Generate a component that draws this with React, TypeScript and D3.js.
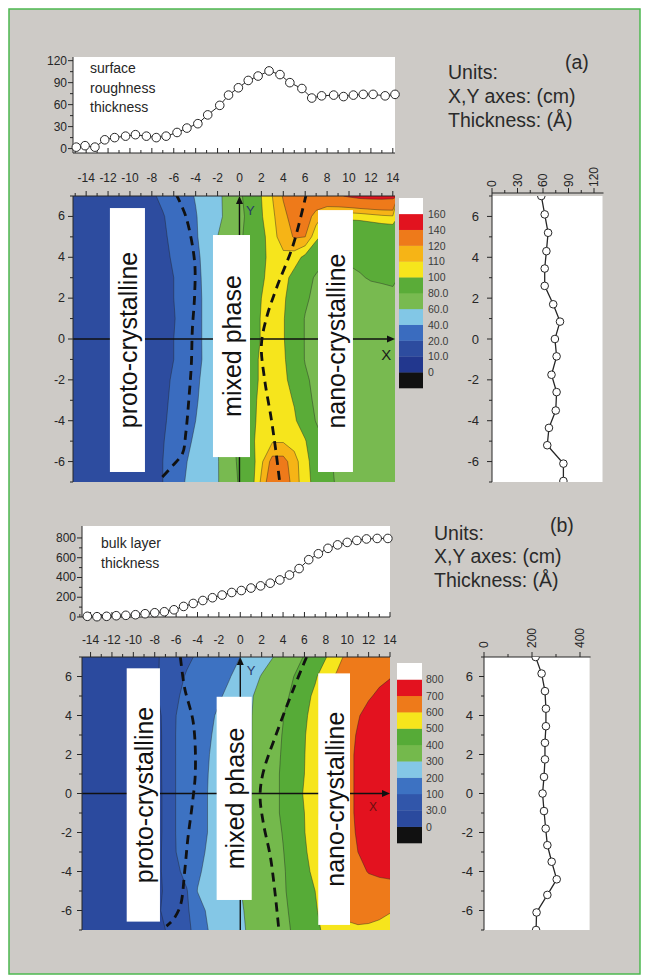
import React from "react";
import * as d3 from "d3";

const FONT = "'Liberation Sans', Arial, Helvetica, sans-serif";

// ---------- grid of the two thickness maps (cm) ----------
const gridX = [-15, -14, -13, -12, -11, -10, -9, -8, -7, -6, -5, -4, -3, -2, -1, 0, 1, 2, 3, 4, 5, 6, 7, 8, 9, 10, 11, 12, 13, 14];
const gridY = [7, 6, 5, 4, 3, 2, 1, 0, -1, -2, -3, -4, -5, -6, -7];

// surface roughness thickness (Å), one row per y from +7 down to -7
const roughnessMap = [
  [15, 15, 15, 15, 15, 15, 16, 18, 23, 29, 35, 41, 48, 56, 66, 77, 88, 100, 110, 121, 126, 130, 132, 135, 138, 142, 145, 146, 146, 145],
  [15, 15, 15, 15, 15, 15, 16, 17, 19, 25, 32, 39, 47, 56, 65, 75, 86, 99, 108, 117, 125, 127, 115, 106, 104, 103, 104, 106, 108, 109],
  [15, 15, 15, 15, 15, 15, 16, 17, 18, 23, 30, 38, 48, 60, 69, 77, 87, 96, 107, 114, 121, 120, 103, 94, 88, 85, 84, 84, 85, 86],
  [15, 15, 15, 15, 15, 15, 16, 17, 18, 21, 28, 36, 46, 60, 69, 79, 88, 97, 104, 108, 105, 97, 88, 81, 81, 82, 83, 84, 84, 85],
  [15, 15, 15, 15, 15, 15, 16, 17, 18, 20, 27, 35, 45, 58, 69, 79, 89, 98, 105, 104, 96, 86, 78, 75, 75, 77, 79, 81, 82, 83],
  [15, 15, 15, 15, 15, 15, 16, 17, 18, 20, 27, 35, 44, 57, 69, 80, 90, 100, 105, 102, 93, 83, 75, 72, 72, 73, 74, 75, 75, 76],
  [15, 15, 15, 15, 15, 15, 16, 17, 18, 19, 27, 35, 44, 57, 70, 82, 92, 101, 106, 101, 91, 79, 74, 72, 72, 73, 73, 72, 72, 72],
  [15, 15, 15, 15, 15, 16, 16, 17, 18, 20, 27, 35, 44, 57, 71, 83, 92, 101, 106, 101, 91, 79, 74, 72, 72, 73, 73, 72, 72, 72],
  [15, 15, 15, 15, 15, 15, 16, 17, 18, 20, 26, 36, 43, 56, 70, 84, 95, 102, 105, 102, 92, 79, 73, 72, 72, 72, 73, 72, 72, 72],
  [15, 15, 15, 15, 15, 15, 16, 17, 18, 21, 28, 37, 45, 57, 70, 84, 95, 102, 105, 103, 95, 83, 75, 72, 71, 72, 72, 72, 72, 72],
  [15, 15, 15, 15, 15, 15, 16, 17, 18, 22, 30, 38, 47, 58, 71, 85, 96, 103, 106, 105, 99, 87, 76, 73, 72, 72, 72, 72, 72, 72],
  [15, 15, 15, 15, 15, 15, 16, 17, 18, 24, 32, 40, 48, 58, 71, 85, 97, 103, 106, 106, 102, 92, 79, 75, 73, 72, 72, 72, 72, 72],
  [15, 15, 15, 15, 15, 15, 16, 17, 19, 27, 35, 43, 50, 59, 72, 86, 97, 105, 109, 109, 106, 101, 88, 77, 74, 73, 72, 72, 72, 72],
  [15, 15, 15, 15, 15, 15, 16, 17, 20, 29, 38, 47, 53, 59, 70, 84, 94, 108, 124, 124, 114, 103, 95, 83, 77, 74, 73, 72, 72, 72],
  [15, 15, 15, 15, 15, 15, 16, 17, 20, 30, 40, 48, 54, 59, 69, 82, 94, 112, 130, 128, 115, 104, 96, 84, 78, 74, 73, 72, 72, 72],
];

// bulk layer thickness (Å), one row per y from +7 down to -7
const bulkMap = [
  [15, 15, 15, 16, 17, 18, 20, 22, 41, 64, 86, 109, 132, 155, 177, 200, 232, 265, 297, 331, 369, 405, 450, 495, 560, 627, 655, 668, 675, 680],
  [15, 15, 15, 16, 17, 18, 20, 22, 43, 77, 107, 129, 151, 173, 196, 230, 268, 305, 337, 368, 400, 443, 487, 554, 612, 637, 658, 672, 685, 697],
  [15, 15, 15, 16, 17, 18, 20, 22, 47, 91, 119, 143, 167, 190, 221, 257, 293, 326, 358, 390, 408, 468, 520, 604, 626, 649, 671, 693, 712, 722],
  [15, 15, 15, 16, 17, 18, 20, 21, 36, 100, 128, 156, 183, 211, 240, 269, 297, 330, 363, 397, 438, 479, 550, 614, 640, 668, 695, 722, 738, 748],
  [15, 15, 15, 16, 17, 18, 20, 21, 35, 103, 132, 162, 191, 218, 245, 271, 297, 332, 368, 404, 448, 491, 573, 620, 649, 677, 706, 730, 745, 755],
  [15, 15, 15, 16, 17, 18, 20, 21, 35, 103, 134, 166, 197, 222, 246, 271, 297, 333, 370, 409, 452, 496, 582, 624, 653, 682, 711, 733, 748, 757],
  [15, 15, 15, 16, 17, 18, 20, 21, 35, 103, 135, 168, 200, 224, 248, 272, 298, 335, 373, 414, 459, 500, 585, 624, 653, 682, 711, 733, 748, 758],
  [15, 15, 15, 16, 17, 18, 19, 20, 35, 103, 137, 170, 202, 226, 250, 274, 298, 335, 373, 414, 459, 508, 585, 624, 653, 682, 711, 733, 748, 758],
  [15, 15, 15, 16, 17, 18, 19, 20, 35, 103, 137, 170, 202, 226, 250, 275, 300, 336, 373, 414, 459, 500, 585, 624, 653, 682, 711, 733, 748, 757],
  [15, 15, 15, 16, 17, 18, 19, 20, 35, 103, 137, 170, 202, 229, 256, 278, 303, 338, 368, 404, 450, 496, 577, 621, 650, 679, 707, 730, 745, 755],
  [15, 15, 15, 16, 17, 18, 19, 20, 36, 100, 138, 177, 210, 234, 259, 283, 309, 338, 368, 397, 439, 483, 555, 614, 643, 671, 700, 722, 738, 748],
  [15, 15, 15, 16, 17, 18, 19, 20, 36, 78, 133, 189, 219, 242, 265, 288, 313, 339, 366, 392, 429, 471, 527, 605, 630, 655, 680, 704, 712, 716],
  [15, 15, 15, 16, 17, 18, 19, 20, 34, 68, 94, 202, 226, 250, 274, 298, 321, 344, 368, 391, 423, 462, 500, 583, 620, 640, 655, 665, 672, 675],
  [15, 15, 15, 16, 17, 18, 19, 20, 38, 60, 85, 160, 215, 240, 264, 292, 316, 339, 363, 386, 415, 452, 489, 540, 600, 625, 632, 630, 620, 605],
  [15, 15, 15, 16, 17, 18, 19, 20, 30, 55, 80, 130, 200, 229, 258, 287, 313, 337, 360, 384, 407, 440, 478, 520, 560, 580, 588, 585, 578, 570],
];

// contour levels; colours[0] is below the first level, colours[i+1] from levels[i] upward
const roughnessLevels = [0, 10, 20, 40, 60, 80, 100, 110, 120, 140, 160];
const roughnessLevelLabels = ["0", "10.0", "20.0", "40.0", "60.0", "80.0", "100", "110", "120", "140", "160"];
const roughnessColors = ["#111111", "#22378e", "#2d4c9f", "#3a6cbf", "#82c7e6", "#78ba50", "#5aac38", "#f6e51c", "#f6b416", "#ee7a1a", "#e2131f", "#ffffff"];

const bulkLevels = [0, 30, 100, 200, 300, 400, 500, 600, 700, 800];
const bulkLevelLabels = ["0", "30.0", "100", "200", "300", "400", "500", "600", "700", "800"];
const bulkColors = ["#111111", "#2b4a9e", "#3156aa", "#3d72c2", "#84c7e6", "#74b94c", "#56ab37", "#f6e51c", "#ee7a1a", "#e3121f", "#ffffff"];

// thickness profiles along X (y = 0)
const roughnessProfileX = [-14.9, -14.1, -13.2, -12.3, -11.4, -10.4, -9.5, -8.5, -7.6, -6.7, -5.7, -4.8, -3.8, -2.9, -1.8, -1.0, -0.1, 0.8, 1.7, 2.7, 3.7, 4.6, 5.7, 6.6, 7.5, 8.6, 9.5, 10.4, 11.3, 12.2, 13.3, 14.2];
const roughnessProfileV = [2, 4, 2, 12, 15, 17, 19, 17, 15, 17, 22, 28, 34, 46, 59, 73, 83, 93, 99, 106, 101, 90, 82, 69, 72, 73, 71, 73, 74, 74, 72, 74];
const bulkProfileX = [-14.3, -13.4, -12.5, -11.6, -10.7, -9.8, -8.9, -8.0, -7.1, -6.2, -5.3, -4.4, -3.5, -2.6, -1.7, -0.8, 0.1, 1.0, 1.9, 2.8, 3.7, 4.6, 5.5, 6.4, 7.3, 8.2, 9.1, 10.0, 10.9, 11.8, 12.8, 13.8];
const bulkProfileV = [7, 3, 7, 13, 17, 23, 33, 43, 53, 73, 107, 137, 167, 195, 222, 248, 268, 293, 315, 342, 375, 425, 490, 580, 640, 695, 730, 755, 775, 790, 795, 795];

// thickness profiles along Y (x = 0)
const roughnessSideY = [7.0, 6.1, 5.2, 4.3, 3.45, 2.6, 1.7, 0.85, 0, -0.85, -1.75, -2.6, -3.5, -4.35, -5.2, -6.1, -6.95];
const roughnessSideV = [58, 62, 66, 64, 62, 62, 72, 80, 74, 76, 70, 76, 75, 67, 65, 84, 84];
const bulkSideY = [7.0, 6.15, 5.25, 4.35, 3.45, 2.6, 1.75, 0.85, 0, -0.9, -1.8, -2.65, -3.5, -4.4, -5.2, -6.1, -7.0];
const bulkSideV = [215, 240, 254, 258, 258, 254, 254, 250, 244, 250, 257, 264, 282, 303, 264, 219, 217];

// phase boundaries (cm)
const roughnessBoundaryLeft = [[-5.8, 7.1], [-4.9, 6.0], [-4.1, 3.8], [-4.1, 2.1], [-4.3, 0.5], [-4.4, -1.3], [-4.6, -2.8], [-4.9, -4.6], [-5.2, -5.6], [-6.1, -6.2], [-7.3, -6.9]];
const roughnessBoundaryRight = [[6.1, 7.1], [4.9, 4.6], [3.35, 2.45], [2.45, 1.0], [2.0, -0.3], [2.3, -2.0], [2.9, -3.9], [3.35, -5.6], [3.65, -6.9]];
const bulkBoundaryLeft = [[-5.6, 7.0], [-5.2, 5.4], [-4.4, 3.65], [-4.2, 1.1], [-4.5, -0.6], [-4.9, -2.3], [-5.2, -4.0], [-5.6, -5.75], [-6.25, -6.45], [-6.9, -6.8]];
const bulkBoundaryRight = [[6.2, 7.0], [5.0, 5.4], [3.4, 3.1], [2.15, 1.1], [1.85, -0.1], [2.15, -1.5], [2.8, -3.2], [3.25, -5.1], [3.6, -6.95]];

// phase names with their extent in cm [x0, x1, yTop, yBottom]
const roughnessRegions = [
  { name: "proto-crystalline", box: [-11.83, -8.63, 6.41, -6.51] },
  { name: "mixed phase", box: [-2.42, 0.96, 5.09, -5.78] },
  { name: "nano-crystalline", box: [7.17, 10.36, 6.31, -6.51] },
];
const bulkRegions = [
  { name: "proto-crystalline", box: [-10.62, -7.51, 6.42, -6.57] },
  { name: "mixed phase", box: [-2.21, 1.07, 4.96, -5.46] },
  { name: "nano-crystalline", box: [7.29, 10.26, 6.16, -6.74] },
];

// tick values
const mapXTicks = [-14, -12, -10, -8, -6, -4, -2, 0, 2, 4, 6, 8, 10, 12, 14];
const mapXMinor = [-15, -13, -11, -9, -7, -5, -3, -1, 1, 3, 5, 7, 9, 11, 13];
const mapYTicks = [-6, -4, -2, 0, 2, 4, 6];
const mapYMinor = [-7, -5, -3, -1, 1, 3, 5, 7];
const roughnessProfileTicks = [0, 30, 60, 90, 120];
const roughnessProfileMinor = [15, 45, 75, 105];
const bulkProfileTicks = [0, 200, 400, 600, 800];
const bulkProfileMinor = [100, 300, 500, 700];
const roughnessSideTicks = [0, 30, 60, 90, 120];
const roughnessSideMinor = [15, 45, 75, 105];
const bulkSideTicks = [0, 200, 400];
const bulkSideMinor = [100, 300];

const INK = "#262626";

function contourShapes(values: number[][], levels: number[], xs: any, ys: any) {
  const nx = values[0].length;
  const ny = values.length;
  const dx = gridX[1] - gridX[0];
  const dy = gridY[1] - gridY[0];
  const gen = d3.contours().size([nx, ny]).thresholds(levels);
  const proj = d3.geoTransform({
    point(this: any, x: number, y: number) {
      this.stream.point(xs(gridX[0] + (x - 0.5) * dx), ys(gridY[0] + (y - 0.5) * dy));
    },
  });
  const path = d3.geoPath(proj as any);
  return gen(values.flat()).map((c: any, i: number) => ({ level: levels[i], d: path(c) || "" }));
}

function Panel(p: any) {
  const { id, xs, yProf, yMap, xSide } = p;
  const [dx0, dx1] = xs.domain();
  const mx0 = xs(dx0), mx1 = xs(dx1);
  const my0 = yMap(7), my1 = yMap(-7);
  const shapes = contourShapes(p.mapValues, p.levels, xs, yMap);
  const profLine = d3.line<number>().x((_, i) => xs(p.profX[i])).y((v) => yProf(v))(p.profV) || "";
  const sideLine = d3.line<number>().x((v) => xSide(v)).y((_, i) => yMap(p.sideY[i]))(p.sideV) || "";
  const dash = (pts: number[][]) =>
    d3.line<number[]>().x((d) => xs(d[0])).y((d) => yMap(d[1])).curve(d3.curveCatmullRom.alpha(0.5))(pts) || "";
  const nBoxes = p.colors.length;
  const boxH = (p.bar.y1 - p.bar.y0) / nBoxes;
  const sx0 = xSide(0);
  const sx1 = xSide.range()[1];
  const x0px = xs(0);
  const y0px = yMap(0);

  return (
    <g>
      <defs>
        <clipPath id={`${id}-map`}>
          <rect x={mx0} y={my0} width={mx1 - mx0} height={my1 - my0} />
        </clipPath>
        <clipPath id={`${id}-side`}>
          <rect x={sx0 - 5} y={my0} width={sx1 - sx0 + 5} height={my1 - my0} />
        </clipPath>
      </defs>

      {/* top profile along X */}
      <rect x={mx0} y={p.profBox[0]} width={mx1 - mx0} height={p.profBox[1] - p.profBox[0]} fill="#fff" />
      <line x1={mx0} x2={mx0} y1={p.profBox[0]} y2={p.profBox[1]} stroke={INK} />
      <line x1={mx0} x2={mx1} y1={p.profBox[1]} y2={p.profBox[1]} stroke={INK} />
      {p.profTicks.map((t: number) => (
        <g key={`pt${t}`}>
          <line x1={mx0 - 5} x2={mx0} y1={yProf(t)} y2={yProf(t)} stroke={INK} />
          <text x={mx0 - 6} y={yProf(t)} textAnchor="end" dominantBaseline="central" fontSize={12} fill={INK}>{t}</text>
        </g>
      ))}
      {p.profMinor.map((t: number) => (
        <line key={`pm${t}`} x1={mx0 - 3} x2={mx0} y1={yProf(t)} y2={yProf(t)} stroke={INK} />
      ))}
      {[...mapXTicks, ...mapXMinor].map((t) => (
        <line key={`pb${t}`} x1={xs(t)} x2={xs(t)} y1={p.profBox[1]} y2={p.profBox[1] - (t % 2 === 0 ? 5 : 3)} stroke={INK} />
      ))}
      {p.profLabel.map((s: string, i: number) => (
        <text key={s} x={p.profLabelX} y={p.profLabelY + i * 19.5} fontSize={14} fill={INK} dominantBaseline="central">{s}</text>
      ))}
      <path d={profLine} fill="none" stroke={INK} strokeWidth={1} />
      {p.profV.map((v: number, i: number) => (
        <circle key={`pc${i}`} cx={xs(p.profX[i])} cy={yProf(v)} r={4.3} fill="#fff" stroke={INK} strokeWidth={1} />
      ))}

      {/* thickness map */}
      <g clipPath={`url(#${id}-map)`}>
        <rect x={mx0} y={my0} width={mx1 - mx0} height={my1 - my0} fill={p.colors[0]} />
        {shapes.map((s: any, i: number) => (
          <path key={`f${i}`} d={s.d} fill={p.colors[i + 1]} fillRule="evenodd" />
        ))}
        {shapes.map((s: any, i: number) => (
          <path key={`l${i}`} d={s.d} fill="none" stroke="#222" strokeOpacity={0.6} strokeWidth={0.7} />
        ))}
        <path d={dash(p.dashLeft)} fill="none" stroke="#111" strokeWidth={2.8} strokeDasharray="9 6" />
        <path d={dash(p.dashRight)} fill="none" stroke="#111" strokeWidth={2.8} strokeDasharray="9 6" />
      </g>
      {/* coordinate axes inside the map */}
      <line x1={mx0} x2={mx1 - 6} y1={y0px} y2={y0px} stroke="#111" strokeWidth={1.4} />
      <path d={`M${mx1},${y0px} L${mx1 - 8},${y0px - 3.5} L${mx1 - 8},${y0px + 3.5} Z`} fill="#111" />
      <line x1={x0px} x2={x0px} y1={my1} y2={my0 + 6} stroke="#111" strokeWidth={1.4} />
      <path d={`M${x0px},${my0} L${x0px - 3.5},${my0 + 8} L${x0px + 3.5},${my0 + 8} Z`} fill="#111" />
      <text x={xs(p.xLabel[0])} y={yMap(p.xLabel[1])} fontSize={p.xLabelSize} fill={p.xLabelColor} textAnchor="middle" dominantBaseline="central">X</text>
      <text x={xs(p.yLabel[0])} y={yMap(p.yLabel[1])} fontSize={13} fill="#2a3a6a" textAnchor="middle" dominantBaseline="central">Y</text>

      {/* phase labels */}
      {p.regions.map((r: any) => {
        const [bx0, bx1, by0, by1] = r.box;
        const cx = (xs(bx0) + xs(bx1)) / 2;
        const cy = (yMap(by0) + yMap(by1)) / 2;
        return (
          <g key={r.name}>
            <rect x={xs(bx0)} y={yMap(by0)} width={xs(bx1) - xs(bx0)} height={yMap(by1) - yMap(by0)} fill="#fff" />
            <text transform={`translate(${cx + 1},${cy}) rotate(-90)`} textAnchor="middle" dominantBaseline="central" fontSize={25} fill="#111">{r.name}</text>
          </g>
        );
      })}

      {/* map axes */}
      <line x1={mx0} x2={mx1} y1={my0} y2={my0} stroke={INK} />
      <line x1={mx0} x2={mx0} y1={my0} y2={my1} stroke={INK} />
      {mapXTicks.map((t) => (
        <g key={`mx${t}`}>
          <line x1={xs(t)} x2={xs(t)} y1={my0} y2={my0 - 5} stroke={INK} />
          <text x={xs(t)} y={p.mapTickLabelY} textAnchor="middle" dominantBaseline="central" fontSize={12} fill={INK}>{t}</text>
        </g>
      ))}
      {mapXMinor.filter((t) => t >= dx0).map((t) => (
        <line key={`mxm${t}`} x1={xs(t)} x2={xs(t)} y1={my0} y2={my0 - 3} stroke={INK} />
      ))}
      {mapYTicks.map((t) => (
        <g key={`my${t}`}>
          <line x1={mx0 - 5} x2={mx0} y1={yMap(t)} y2={yMap(t)} stroke={INK} />
          <text x={mx0 - p.mapYLabelGap} y={yMap(t)} textAnchor="end" dominantBaseline="central" fontSize={12.5} fill={INK}>{t}</text>
        </g>
      ))}
      {mapYMinor.map((t) => (
        <line key={`mym${t}`} x1={mx0 - 3} x2={mx0} y1={yMap(t)} y2={yMap(t)} stroke={INK} />
      ))}

      {/* colour scale */}
      {p.colors.map((c: string, i: number) => (
        <rect key={`cb${i}`} x={p.bar.x} y={p.bar.y1 - (i + 1) * boxH} width={p.bar.w} height={boxH + 0.3} fill={c} />
      ))}
      {p.levelLabels.map((s: string, i: number) => (
        <text key={`cl${i}`} x={p.bar.labelX} y={p.bar.y1 - (i + 1) * boxH} dominantBaseline="central" fontSize={10.5} fill="#3a3a3a">{s}</text>
      ))}

      {/* side profile along Y */}
      <rect x={sx0} y={my0} width={sx1 - sx0} height={my1 - my0} fill="#fff" />
      <line x1={sx0} x2={sx0} y1={p.sideAxisY} y2={my1} stroke={INK} />
      <line x1={sx0} x2={sx1 + 1} y1={p.sideAxisY} y2={p.sideAxisY} stroke={INK} />
      {p.sideTicks.map((t: number) => (
        <g key={`st${t}`}>
          <line x1={xSide(t)} x2={xSide(t)} y1={p.sideAxisY} y2={p.sideAxisY - 5} stroke={INK} />
          <text transform={`translate(${xSide(t)},${p.sideLabelY}) rotate(-90)`} textAnchor="start" dominantBaseline="central" fontSize={12} fill={INK}>{t}</text>
        </g>
      ))}
      {p.sideMinor.map((t: number) => (
        <line key={`sm${t}`} x1={xSide(t)} x2={xSide(t)} y1={p.sideAxisY} y2={p.sideAxisY - 3} stroke={INK} />
      ))}
      {mapYTicks.map((t) => (
        <g key={`sy${t}`}>
          <line x1={sx0 - 5} x2={sx0} y1={yMap(t)} y2={yMap(t)} stroke={INK} />
          <text x={sx0 - p.sideYLabelGap} y={yMap(t)} textAnchor="end" dominantBaseline="central" fontSize={13} fill={INK}>{t}</text>
        </g>
      ))}
      {mapYMinor.map((t) => (
        <line key={`sym${t}`} x1={sx0 - 3} x2={sx0} y1={yMap(t)} y2={yMap(t)} stroke={INK} />
      ))}
      <g clipPath={`url(#${id}-side)`}>
        <path d={sideLine} fill="none" stroke={INK} strokeWidth={1.3} />
        {p.sideV.map((v: number, i: number) => (
          <circle key={`sc${i}`} cx={xSide(v)} cy={yMap(p.sideY[i])} r={3.8} fill="#fff" stroke={INK} strokeWidth={1} />
        ))}
      </g>

      {/* units */}
      {["Units:", "X,Y axes: (cm)", "Thickness: (Å)"].map((s, i) => (
        <text key={s} x={p.units.x} y={p.units.y[i]} fontSize={19.5} fill="#2a2a2a" dominantBaseline="central">{s}</text>
      ))}
      <text x={p.units.tagX} y={p.units.tagY} fontSize={19.5} fill="#2a2a2a" dominantBaseline="central">{p.units.tag}</text>
    </g>
  );
}

export default function App() {
  const xA = d3.scaleLinear().domain([-15.2, 14.2]).range([73, 395]);
  const yProfA = d3.scaleLinear().domain([-6, 125]).range([153, 57]);
  const yMapA = d3.scaleLinear().domain([-7, 7]).range([482, 196]);
  const xSideA = d3.scaleLinear().domain([0, 130]).range([492, 602.5]);

  const xB = d3.scaleLinear().domain([-14.8, 14]).range([82, 390]);
  const yProfB = d3.scaleLinear().domain([0, 921]).range([617, 526]);
  const yMapB = d3.scaleLinear().domain([-7, 7]).range([930, 657]);
  const xSideB = d3.scaleLinear().domain([0, 440]).range([484, 589.6]);

  return (
    <svg width={648} height={977} style={{ position: "absolute", left: 0, top: 0, background: "#fff" }} fontFamily={FONT}>
      <rect x={9} y={9} width={631} height={965} fill="#cdcac6" stroke="#4cb84f" strokeWidth={1.5} />
      <Panel
        id="pa"
        xs={xA}
        yProf={yProfA}
        yMap={yMapA}
        xSide={xSideA}
        profBox={[57, 153]}
        profX={roughnessProfileX}
        profV={roughnessProfileV}
        profTicks={roughnessProfileTicks}
        profMinor={roughnessProfileMinor}
        profLabel={["surface", "roughness", "thickness"]}
        profLabelX={90}
        profLabelY={68}
        mapValues={roughnessMap}
        levels={roughnessLevels}
        colors={roughnessColors}
        levelLabels={roughnessLevelLabels}
        bar={{ x: 399, w: 24, y0: 198, y1: 388, labelX: 428 }}
        dashLeft={roughnessBoundaryLeft}
        dashRight={roughnessBoundaryRight}
        regions={roughnessRegions}
        xLabel={[13.4, -0.75]}
        xLabelSize={15}
        xLabelColor="#1a1a1a"
        yLabel={[1.0, 6.3]}
        mapTickLabelY={178}
        mapYLabelGap={8}
        sideY={roughnessSideY}
        sideV={roughnessSideV}
        sideTicks={roughnessSideTicks}
        sideMinor={roughnessSideMinor}
        sideAxisY={193}
        sideLabelY={187}
        sideYLabelGap={13}
        units={{ x: 448, y: [72, 96, 120], tag: "(a)", tagX: 565, tagY: 62 }}
      />
      <Panel
        id="pb"
        xs={xB}
        yProf={yProfB}
        yMap={yMapB}
        xSide={xSideB}
        profBox={[526, 617]}
        profX={bulkProfileX}
        profV={bulkProfileV}
        profTicks={bulkProfileTicks}
        profMinor={bulkProfileMinor}
        profLabel={["bulk layer", "thickness"]}
        profLabelX={101}
        profLabelY={543}
        mapValues={bulkMap}
        levels={bulkLevels}
        colors={bulkColors}
        levelLabels={bulkLevelLabels}
        bar={{ x: 397, w: 25, y0: 663, y1: 843, labelX: 426 }}
        dashLeft={bulkBoundaryLeft}
        dashRight={bulkBoundaryRight}
        regions={bulkRegions}
        xLabel={[12.4, -0.7]}
        xLabelSize={12}
        xLabelColor="#6a1010"
        yLabel={[1.0, 6.3]}
        mapTickLabelY={640}
        mapYLabelGap={10}
        sideY={bulkSideY}
        sideV={bulkSideV}
        sideTicks={bulkSideTicks}
        sideMinor={bulkSideMinor}
        sideAxisY={657}
        sideLabelY={648}
        sideYLabelGap={11}
        units={{ x: 434, y: [533, 556, 580], tag: "(b)", tagX: 550, tagY: 525 }}
      />
    </svg>
  );
}
